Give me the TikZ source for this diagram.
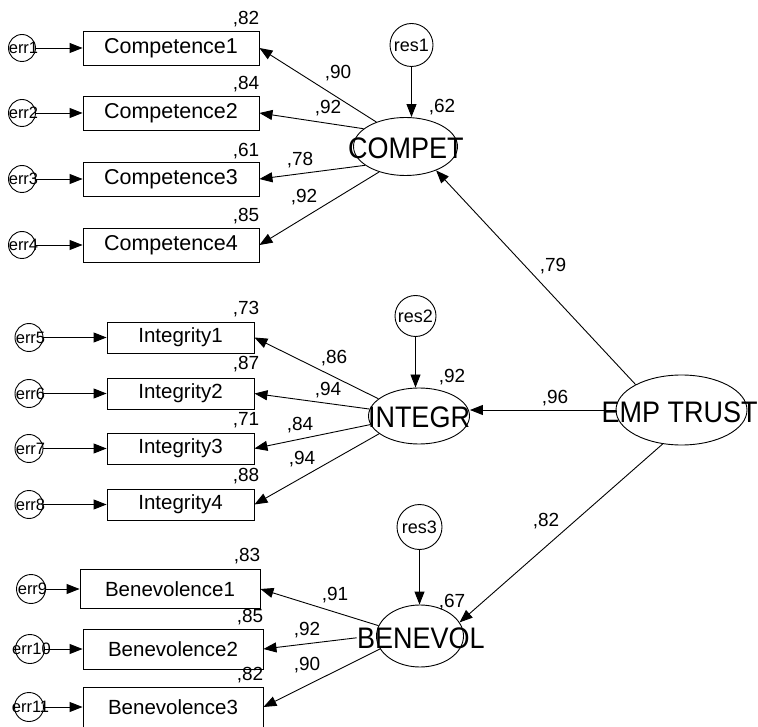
\documentclass[tikz,border=0pt]{standalone}
\usepackage{fontspec}
\usepackage{graphicx}
\setmainfont{Liberation Sans}
\usetikzlibrary{shapes.geometric,arrows.meta}

\begin{document}
\begin{tikzpicture}[x=1pt,y=-1pt,
  line width=0.9pt,
  obsbox/.style={draw, rectangle, inner sep=0pt, font=\fontsize{20.5}{24}\selectfont},
  bigbox/.style={obsbox, font=\fontsize{21.5}{24}\selectfont},
  errc/.style={draw, circle, inner sep=0pt},
  errtxt/.style={font=\fontsize{16.5}{19}\selectfont, inner sep=0pt, xshift=1.5pt},
  resc/.style={draw, circle, inner sep=0pt, font=\fontsize{18}{20}\selectfont},
  latent/.style={draw, ellipse, inner sep=0pt},
  lattxt/.style={font=\fontsize{27}{30}\selectfont, inner sep=0pt},
  coef/.style={font=\fontsize{19}{21}\selectfont, inner sep=0pt, text depth=0pt},
  arr/.style={-{Triangle[length=13pt,width=10pt]}},
]
\useasboundingbox (0,0) rectangle (758,727);

% ---- observed indicators
\node[bigbox, minimum width=176, minimum height=34] (c1) at (171,48) {Competence1};
\node[bigbox, minimum width=176, minimum height=34] (c2) at (171,113) {Competence2};
\node[bigbox, minimum width=176, minimum height=34] (c3) at (171,179) {Competence3};
\node[bigbox, minimum width=176, minimum height=34] (c4) at (171,245) {Competence4};

\node[obsbox, minimum width=147, minimum height=31] (i1) at (180.5,337.5) {Integrity1};
\node[obsbox, minimum width=147, minimum height=31] (i2) at (180.5,393.5) {Integrity2};
\node[obsbox, minimum width=147, minimum height=31] (i3) at (180.5,448.5) {Integrity3};
\node[obsbox, minimum width=147, minimum height=31] (i4) at (180.5,504.5) {Integrity4};

\node[obsbox, minimum width=180, minimum height=39] (b1) at (170,589) {Benevolence1};
\node[obsbox, minimum width=180, minimum height=40] (b2) at (173,649) {Benevolence2};
\node[obsbox, minimum width=180, minimum height=40] (b3) at (173,707) {Benevolence3};

% ---- error terms
\node[errc, minimum size=27, label={[errtxt]center:err1}] (e1) at (22,48) {};
\node[errc, minimum size=27, label={[errtxt]center:err2}] (e2) at (22,113) {};
\node[errc, minimum size=27, label={[errtxt]center:err3}] (e3) at (22,179) {};
\node[errc, minimum size=27, label={[errtxt]center:err4}] (e4) at (22,245) {};
\node[errc, minimum size=28, label={[errtxt]center:err5}] (e5) at (29,337.5) {};
\node[errc, minimum size=28, label={[errtxt]center:err6}] (e6) at (29,393.5) {};
\node[errc, minimum size=28, label={[errtxt]center:err7}] (e7) at (29,448.5) {};
\node[errc, minimum size=28, label={[errtxt]center:err8}] (e8) at (29,504.5) {};
\node[errc, minimum size=29, label={[errtxt]center:err9}] (e9) at (31,589) {};
\node[errc, minimum size=29, label={[errtxt]center:err10}] (e10) at (30,649) {};
\node[errc, minimum size=29, label={[errtxt]center:err11}] (e11) at (29,707) {};

% ---- latent factors
\node[latent, minimum width=104, minimum height=58] (compet) at (405.5,146.5) {};
\node[latent, minimum width=101, minimum height=56] (integr) at (419,416) {};
\node[latent, minimum width=87, minimum height=62] (benevol) at (420,636) {};
\node[latent, minimum width=131, minimum height=70] (emp) at (681.5,410) {};

\node[lattxt] (competT) at (405.8,147.8) {\scalebox{1}[1.1]{COMPET}};
\node[lattxt] (integrT) at (419,417.5) {\scalebox{1}[1.1]{INTEGR}};
\node[lattxt] (benevolT) at (420.8,637.8) {\scalebox{1}[1.1]{BENEVOL}};
\node[lattxt] (empT) at (679.7,412) {\scalebox{1}[1.1]{EMP TRUST}};

% ---- residuals
\node[resc, minimum size=43] (r1) at (411.5,45) {res1};
\node[resc, minimum size=41] (r2) at (415.5,316) {res2};
\node[resc, minimum size=45] (r3) at (419.5,527) {res3};

% ---- error paths
\foreach \e/\o in {e1/c1,e2/c2,e3/c3,e4/c4,e5/i1,e6/i2,e7/i3,e8/i4,e9/b1,e10/b2,e11/b3}
  \draw[arr] (\e) -- (\o);

% ---- residual paths
\draw[arr] (r1.south) -- (r1.south |- compet.north);
\draw[arr] (r2.south) -- (r2.south |- integr.north);
\draw[arr] (r3.south) -- (r3.south |- benevol.north);

% ---- loadings
\draw[arr] (compet.140) -- (c1.east);
\draw[arr] (compet.157.5) -- (c2.east);
\draw[arr] (compet.205) -- (c3.east);
\draw[arr] (compet.224.5) -- (c4.east);

\draw[arr] (integr.157) -- (i1.east);
\draw[arr] (integr.172) -- (i2.east);
\draw[arr] (integr.190) -- (i3.east);
\draw[arr] (integr.204) -- (i4.east);

\draw[arr] (benevol.166) -- (b1.east);
\draw[arr] (benevolT.west) -- (b2.east);
\draw[arr] (benevol.198) -- (b3.east);

% ---- structural paths
\draw[arr] (emp.151) -- (compet.-38);
\draw[arr] (emp.west) -- (emp.west -| integr.east);
\draw[arr] (emp.-119) -- (benevol.19);

% ---- squared multiple correlations
\node[coef] (rc1) at (246,18) {,82};
\node[coef] (rc2) at (246,83) {,84};
\node[coef] (rc3) at (246,150) {,61};
\node[coef] (rc4) at (246,215) {,85};
\node[coef] (ri1) at (246,307.5) {,73};
\node[coef] (ri2) at (246,363) {,87};
\node[coef] (ri3) at (246,419) {,71};
\node[coef] (ri4) at (246,475) {,88};
\node[coef] (rb1) at (247,555) {,83};
\node[coef] (rb2) at (250,616) {,85};
\node[coef] (rb3) at (250,674) {,82};
\node[coef] (rcomp) at (442,106) {,62};
\node[coef] (rint) at (452,376) {,92};
\node[coef] (rben) at (452,601) {,67};

% ---- standardized loadings
\node[coef] (lc1) at (338,72) {,90};
\node[coef] (lc2) at (328,107) {,92};
\node[coef] (lc3) at (300,159) {,78};
\node[coef] (lc4) at (304,196) {,92};
\node[coef] (li1) at (334,357) {,86};
\node[coef] (li2) at (328,389) {,94};
\node[coef] (li3) at (300,424) {,84};
\node[coef] (li4) at (302,458) {,94};
\node[coef] (lb1) at (335,594) {,91};
\node[coef] (lb2) at (307,629) {,92};
\node[coef] (lb3) at (307,664) {,90};

% ---- second-order paths
\node[coef] (g1) at (553,265) {,79};
\node[coef] (g2) at (555,397) {,96};
\node[coef] (g3) at (546,520) {,82};
\end{tikzpicture}
\end{document}
